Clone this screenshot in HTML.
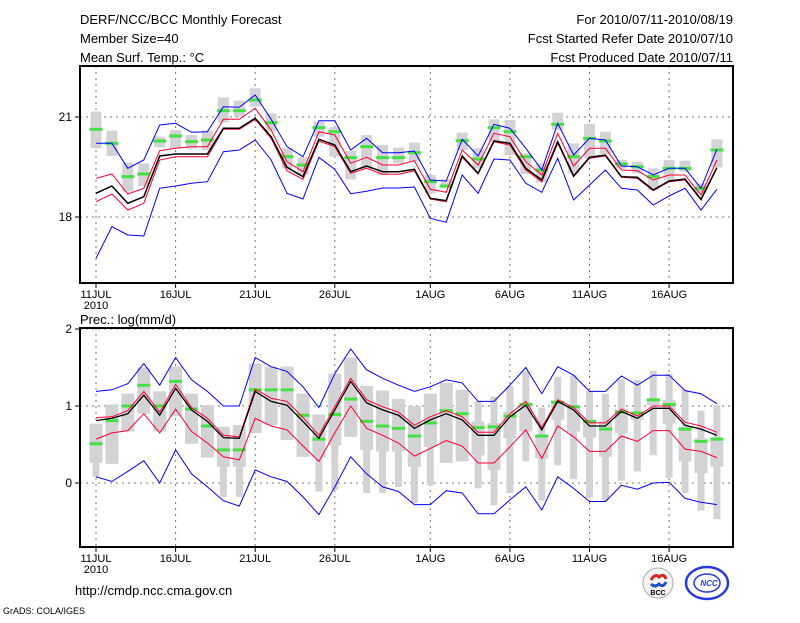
<!DOCTYPE html>
<html><head><meta charset="utf-8"><style>
body{margin:0;background:#fff}
svg text{font-family:"Liberation Sans",sans-serif;fill:#000}
</style></head><body>
<svg id="c" width="800" height="618" xmlns="http://www.w3.org/2000/svg">
<text x="80" y="24" font-size="13">DERF/NCC/BCC Monthly Forecast</text>
<text x="80" y="43" font-size="13">Member Size=40</text>
<text x="80" y="62" font-size="13">Mean Surf. Temp.: °C</text>
<text x="733" y="24" font-size="13" text-anchor="end">For 2010/07/11-2010/08/19</text>
<text x="733" y="43" font-size="13" text-anchor="end">Fcst Started Refer Date 2010/07/10</text>
<text x="733" y="62" font-size="13" text-anchor="end">Fcst Produced Date 2010/07/11</text>
<text x="80" y="324" font-size="13">Prec.: log(mm/d)</text>
<text x="75" y="595" font-size="13">http://cmdp.ncc.cma.gov.cn</text>
<text x="3" y="614" font-size="9">GrADS: COLA/IGES</text>
<g>
<circle cx="658" cy="583" r="15" fill="#f4f4f4" stroke="#aaa" stroke-width="1"/>
<path d="M651 580 q4 -7 8 -3 q5 -4 7 2" stroke="#d22" stroke-width="3" fill="none"/>
<path d="M651 584 q4 4 8 0 q4 4 7 -2" stroke="#2050c0" stroke-width="3" fill="none"/>
<text x="658" y="595" font-size="7" text-anchor="middle" font-weight="bold">BCC</text>
</g>
<g>
<ellipse cx="707" cy="583" rx="21" ry="16" fill="none" stroke="#2838e0" stroke-width="2.5"/>
<ellipse cx="707" cy="583" rx="13" ry="9" fill="none" stroke="#2838e0" stroke-width="1.5"/>
<text x="709" y="586" font-size="8" text-anchor="middle" font-weight="bold" font-style="italic" style="fill:#2838e0">NCC</text>
</g>
</svg>
<script>
const days=["11JUL","16JUL","21JUL","26JUL","1AUG","6AUG","11AUG","16AUG"];
const dayIdx=[0,5,10,15,21,26,31,36];
const tTicks=[18,21];
const pTicks=[0,1,2];
const tBlueHi=[20.21,20.21,19.46,19.71,20.76,20.81,20.54,20.56,21.31,21.29,21.66,20.93,20.11,19.81,20.89,20.89,20.01,20.36,19.93,19.93,19.98,19.11,19.08,20.33,19.83,20.78,20.66,20.06,19.41,20.81,19.86,20.36,20.31,19.53,19.51,19.26,19.46,19.46,18.86,20.03];
const tBlueLo=[16.76,17.71,17.46,17.43,18.86,18.93,19.01,19.06,19.96,20.01,20.31,19.71,18.71,18.54,19.79,19.43,18.7,18.77,18.87,18.87,18.9,17.96,17.84,19.26,18.71,19.74,19.71,19.01,18.74,19.76,18.51,18.96,19.41,18.86,18.81,18.36,18.63,18.86,18.21,18.83];
const tMean=[18.71,18.93,18.41,18.61,19.83,19.89,19.89,19.89,20.66,20.66,20.96,20.41,19.49,19.21,20.33,20.16,19.36,19.53,19.36,19.36,19.43,18.56,18.49,19.83,19.31,20.28,20.21,19.46,19.11,20.26,19.23,19.79,19.86,19.21,19.19,18.81,19.08,19.14,18.53,19.48];
const tRedHi=[19.16,19.29,18.69,18.86,19.99,20.06,20.11,20.11,20.93,20.93,21.26,20.61,19.66,19.36,20.56,20.46,19.61,19.79,19.56,19.56,19.69,18.83,18.74,20.01,19.56,20.51,20.41,19.66,19.26,20.51,19.53,20.06,20.06,19.41,19.39,19.11,19.26,19.26,18.66,19.71];
const tRedLo=[18.46,18.69,18.21,18.41,19.71,19.81,19.81,19.81,20.63,20.63,20.93,20.36,19.39,19.13,20.28,20.11,19.31,19.46,19.28,19.28,19.39,18.54,18.46,19.79,19.29,20.26,20.16,19.41,19.06,20.21,19.21,19.76,19.83,19.19,19.16,18.79,19.06,19.11,18.51,19.46];
const tGreen=[20.63,20.21,19.21,19.29,20.28,20.43,20.26,20.31,21.19,21.19,21.51,20.83,19.81,19.56,20.68,20.56,19.78,20.11,19.78,19.78,19.93,19.06,18.93,20.29,19.74,20.68,20.56,19.81,19.41,20.78,19.81,20.36,20.28,19.59,19.51,19.21,19.46,19.46,18.86,20.01];
const tBoxHi=[21.16,20.59,19.63,19.61,20.41,20.61,20.46,20.59,21.59,21.49,21.86,21.11,20.06,19.79,20.86,20.69,19.98,20.46,20.16,20.08,20.23,19.26,19.13,20.53,20.06,20.93,20.91,19.91,19.61,21.13,20.21,20.79,20.56,19.71,19.66,19.46,19.71,19.69,19.01,20.33];
const tBoxLo=[20.06,19.83,18.76,18.93,20.09,20.06,20.06,20.01,20.83,21.01,21.31,20.56,19.46,19.26,20.41,19.81,19.13,19.43,19.26,19.61,19.66,18.71,18.86,20.01,19.46,20.26,19.86,19.29,19.03,20.61,19.31,19.76,19.89,19.46,19.31,18.81,19.11,19.36,18.71,19.49];
const pBlueHi=[1.19,1.21,1.29,1.55,1.27,1.63,1.34,1.19,1.0,1.0,1.63,1.51,1.45,1.25,0.98,1.42,1.74,1.47,1.36,1.27,1.19,1.25,1.34,1.30,1.06,1.06,1.27,1.50,1.16,1.51,1.40,1.19,1.19,1.39,1.27,1.40,1.40,1.20,1.16,1.03];
const pBlueLo=[0.08,0.02,0.15,0.29,0.0,0.43,0.12,-0.05,-0.23,-0.30,0.17,0.08,0.02,-0.18,-0.41,-0.05,0.34,0.12,-0.05,-0.11,-0.28,-0.28,-0.10,-0.13,-0.40,-0.40,-0.22,-0.05,-0.35,0.08,-0.07,-0.24,-0.24,-0.03,-0.08,0.0,0.01,-0.20,-0.25,-0.28];
const pMean=[0.81,0.84,0.90,1.14,0.88,1.23,0.95,0.80,0.59,0.58,1.19,1.06,1.01,0.80,0.58,0.95,1.32,1.04,0.95,0.88,0.71,0.82,0.90,0.82,0.62,0.62,0.86,1.01,0.69,1.06,0.95,0.74,0.74,0.93,0.84,0.97,0.97,0.75,0.70,0.62];
const pRedHi=[0.85,0.86,0.94,1.19,0.92,1.28,0.98,0.84,0.62,0.60,1.22,1.10,1.06,0.85,0.62,0.99,1.36,1.08,0.99,0.92,0.75,0.86,0.94,0.86,0.66,0.66,0.90,1.06,0.72,1.08,0.98,0.78,0.78,0.96,0.87,1.0,1.0,0.79,0.74,0.66];
const pRedLo=[0.57,0.65,0.68,0.90,0.65,0.96,0.67,0.52,0.34,0.30,0.84,0.74,0.69,0.48,0.28,0.65,1.0,0.71,0.62,0.52,0.35,0.45,0.55,0.48,0.26,0.26,0.47,0.69,0.32,0.74,0.60,0.41,0.41,0.61,0.54,0.68,0.68,0.44,0.41,0.33];
const pGreen=[0.51,0.81,1.0,1.27,1.0,1.32,0.96,0.74,0.43,0.43,1.21,1.21,1.21,0.88,0.57,0.89,1.09,0.80,0.74,0.71,0.61,0.78,0.94,0.90,0.72,0.73,0.87,1.02,0.61,1.05,0.99,0.80,0.70,0.92,0.91,1.08,1.02,0.70,0.54,0.57];
const pWhiHi=[0.77,1.02,1.16,1.50,1.19,1.51,1.16,1.01,0.73,0.75,1.55,1.51,1.51,1.16,0.89,1.42,1.63,1.26,1.20,1.09,1.0,1.16,1.30,1.21,1.06,1.12,1.26,1.45,0.98,1.38,1.40,1.19,1.16,1.35,1.34,1.46,1.42,1.21,0.94,1.01];
const pWhiLo=[0.08,0.25,0.67,0.90,0.67,0.87,0.51,0.33,-0.18,-0.18,0.65,0.75,0.56,0.34,-0.11,-0.09,0.60,-0.13,-0.13,-0.05,-0.26,-0.03,0.26,0.28,-0.07,-0.29,-0.13,0.28,-0.23,0.23,0.05,-0.19,-0.23,0.03,0.15,0.36,0.07,-0.13,-0.36,-0.47];
const pBoxHi=[0.77,1.02,1.16,1.50,1.19,1.51,1.16,1.01,0.73,0.75,1.55,1.51,1.51,1.16,0.89,1.42,1.63,1.26,1.20,1.09,1.0,1.16,1.30,1.21,0.80,0.78,0.93,1.01,0.60,1.06,0.98,0.81,0.80,0.95,0.89,1.09,1.08,0.73,0.58,0.56];
const pBoxLo=[0.26,0.25,0.67,0.90,0.67,0.87,0.51,0.33,0.21,0.21,0.65,0.75,0.56,0.34,0.33,0.49,0.60,0.43,0.41,0.41,0.21,0.47,0.26,0.28,0.36,0.17,0.58,0.67,0.32,0.82,0.67,0.59,0.34,0.65,0.82,1.01,0.77,0.28,0.13,0.21];

const svg=document.getElementById('c');
const NS='http://www.w3.org/2000/svg';
function mk(t,a){const e=document.createElementNS(NS,t);for(const k in a)e.setAttribute(k,a[k]);svg.appendChild(e);return e;}
const X0=80,X1=733;
function xs(i){return 96+i*15.92;}
function makeY(v0,y0,v1,y1){return v=>y0+(v-v0)*(y1-y0)/(v1-v0);}
const yT=makeY(18,217,21,117);
const yP=makeY(0,483,1,406);

function panel(prefix,top,bot,ys,ticks,boxes,lines,greens,gw){
  ticks.forEach(t=>{const y=ys(t);
    const g=mk('line',{x1:X0,x2:X1,y1:y,y2:y,stroke:'#777','stroke-dasharray':'2,4','stroke-width':1});
    
    
    const tk=mk('line',{x1:X0-5,x2:X0,y1:y,y2:y,stroke:'#000','stroke-width':1});
    
    
    const tl=mk('text',{x:X0-8,y:y+4,'font-size':12,'text-anchor':'end'});tl.textContent=t;
    
    
  });
  dayIdx.forEach((d,k)=>{const x=xs(d);
    const g=mk('line',{x1:x,x2:x,y1:top,y2:bot,stroke:'#777','stroke-dasharray':'2,4','stroke-width':1});
    
    
    const tk=mk('line',{x1:x,x2:x,y1:bot,y2:bot+5,stroke:'#000'});
    
    
    const tl=mk('text',{x:x,y:bot+15,'font-size':11,'text-anchor':'middle'});tl.textContent=days[k];
    
    
  });
  const yr=mk('text',{x:96,y:bot+26,'font-size':11,'text-anchor':'middle'});yr.textContent='2010';
  
  
  boxes.forEach(b=>{
    b.hi.forEach((h,i)=>{const y1=ys(h),y2=ys(b.lo[i]);
      const r=mk('rect',{x:xs(i)-b.w/2,y:Math.min(y1,y2),width:b.w,height:Math.abs(y2-y1),fill:'#d3d3d6'});
      
      
    });
  });
  greens.forEach((g,i)=>{const r=mk('rect',{x:xs(i)-gw/2,y:ys(g)-1.5,width:gw,height:3,fill:'#44e044'});
    
    });
  lines.forEach(l=>{const p=mk('polyline',{points:l.d.map((v,i)=>xs(i).toFixed(1)+','+ys(v).toFixed(1)).join(' '),fill:'none',stroke:l.c,'stroke-width':l.w});
    
    });
  const f=mk('rect',{x:X0,y:top,width:X1-X0,height:bot-top,fill:'none',stroke:'#000','stroke-width':2});
  
  
}
panel('temp',66,283,yT,tTicks,[{hi:tBoxHi,lo:tBoxLo,w:11}],
 [{d:tBlueHi,c:'#0000ff',w:1,n:'max-line'},{d:tBlueLo,c:'#0000ff',w:1,n:'min-line'},{d:tRedHi,c:'#ff0030',w:1,n:'upper-red-line'},{d:tRedLo,c:'#ff0030',w:1,n:'lower-red-line'},{d:tMean,c:'#000',w:1.5,n:'mean-line'}],tGreen,13);
panel('prec',328,547,yP,pTicks,[{hi:pWhiHi,lo:pWhiLo,w:7},{hi:pBoxHi,lo:pBoxLo,w:13}],
 [{d:pBlueHi,c:'#0000ff',w:1,n:'max-line'},{d:pBlueLo,c:'#0000ff',w:1,n:'min-line'},{d:pRedHi,c:'#ff0030',w:1,n:'upper-red-line'},{d:pRedLo,c:'#ff0030',w:1,n:'lower-red-line'},{d:pMean,c:'#000',w:1.3,n:'mean-line'}],pGreen,13);
</script>
</body></html>
